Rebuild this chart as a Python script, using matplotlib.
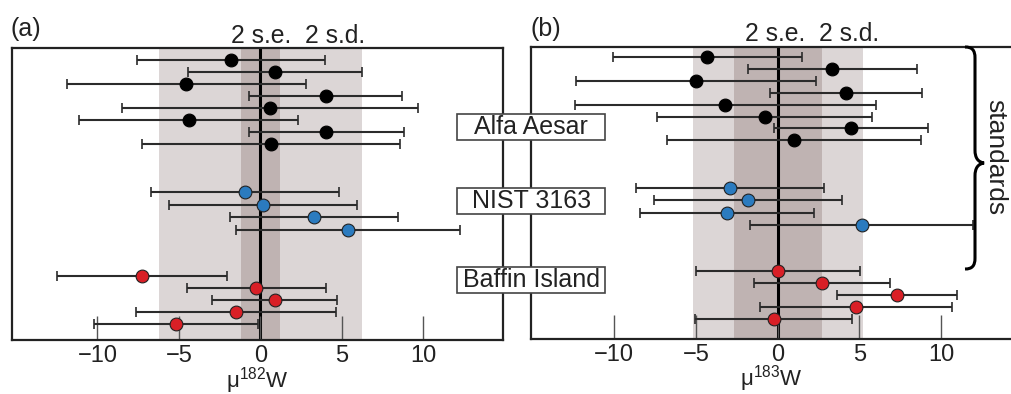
import matplotlib
matplotlib.use('Agg')
import matplotlib.pyplot as plt
from matplotlib.patches import Rectangle, PathPatch
from matplotlib.path import Path
import numpy as np

plt.rcParams['font.family'] = ['Liberation Sans', 'DejaVu Sans']
plt.rcParams['mathtext.fontset'] = 'custom'
plt.rcParams['mathtext.rm'] = 'Liberation Sans'
plt.rcParams['mathtext.it'] = 'Liberation Sans'
plt.rcParams['mathtext.bf'] = 'Liberation Sans'
plt.rcParams['mathtext.default'] = 'regular'

# ---------------- data ----------------
groups = ['Alfa Aesar', 'NIST 3163', 'Baffin Island']
tick_vals = [-10, -5, 0, 5, 10]
tick_labels = ['\u221210', '\u22125', '0', '5', '10']

# panel (a): mu182W
a_alfa_val = [-1.8, 0.9, -4.55, 4.0, 0.6, -4.4, 4.05, 0.65]
a_alfa_err = [5.75, 5.35, 7.33, 4.69, 9.09, 6.73, 4.75, 7.9]
a_nist_val = [-0.95, 0.15, 3.3, 5.35]
a_nist_err = [5.74, 5.78, 5.16, 6.87]
a_baff_val = [-7.28, -0.25, 0.88, -1.5, -5.2]
a_baff_err = [5.23, 4.27, 3.83, 6.11, 5.03]
a_2se, a_2sd = 1.17, 6.2

# panel (b): mu183W
b_alfa_val = [-4.3, 3.35, -5.0, 4.2, -3.2, -0.8, 4.5, 1.0]
b_alfa_err = [5.77, 5.18, 7.34, 4.66, 9.2, 6.57, 4.72, 7.76]
b_nist_val = [-2.9, -1.8, -3.1, 5.15]
b_nist_err = [5.77, 5.77, 5.33, 6.81]
b_baff_val = [0.0, 2.7, 7.33, 4.8, -0.25]
b_baff_err = [5.02, 4.17, 3.68, 5.85, 4.82]
b_2se, b_2sd = 2.7, 5.2

# ---------------- layout ----------------
W, H = 1011, 394
fig = plt.figure(figsize=(W / 100, H / 100), dpi=100)


def fx(px):
    return px / W


def fy(py):
    return 1 - py / H


rows_alfa = 1 + np.arange(8)
rows_nist = 12 + 1.05 * np.arange(4)
rows_baff = 19 + np.arange(5)

LIGHT = '#dcd6d6'
DARK = '#bfb3b2'
BLUE = '#2b7bbf'
RED = '#d91f26'
INK = '#2b2b2b'


def panel(ax, alfa, nist, baff, se, sd, xlim, ylim, xlabel):
    ax.axvspan(-sd, sd, color=LIGHT, lw=0, zorder=0)
    ax.axvspan(-se, se, color=DARK, lw=0, zorder=0.5)
    ax.axvline(0, color='black', lw=2.2, zorder=1)
    for (v, e), rows, fc in ((alfa, rows_alfa, 'black'),
                             (nist, rows_nist, BLUE),
                             (baff, rows_baff, RED)):
        ax.errorbar(v, rows, xerr=e, fmt='none', ecolor=INK, elinewidth=1.5,
                    capsize=3.6, capthick=1.2, zorder=2)
        ax.plot(v, rows, 'o', ms=9.2, mfc=fc,
                mec='black' if fc == 'black' else '#222222', mew=0.8, zorder=3)
    ax.set_xlim(*xlim)
    ax.set_ylim(*ylim)
    ax.set_xticks(tick_vals)
    ax.set_xticklabels(tick_labels)
    ax.tick_params(axis='x', direction='in', length=17, width=1.0, color='#555555',
                   pad=3.5, labelsize=17, labelcolor='#222222')
    ax.set_yticks([])
    ax.set_xlabel(xlabel, fontsize=16, labelpad=-1.5, color='#222222')
    for s in ax.spines.values():
        s.set_linewidth(1.6)
        s.set_color('#222222')


axL = fig.add_axes([fx(12), fy(340), fx(503) - fx(12), fy(48) - fy(340)])
panel(axL, (a_alfa_val, a_alfa_err), (a_nist_val, a_nist_err), (a_baff_val, a_baff_err),
      a_2se, a_2sd, (-15.24, 14.88), (24.33, 0), '\u03bc$^{182}$W')

axR = fig.add_axes([fx(531.3), fy(338.7), 1 - fx(531.3), fy(47) - fy(338.7)])
panel(axR, (b_alfa_val, b_alfa_err), (b_nist_val, b_nist_err), (b_baff_val, b_baff_err),
      b_2se, b_2sd, (-15.08, 14.29), (24.66, 0.16), '\u03bc$^{183}$W')
axR.spines['right'].set_visible(False)

# panel letters and band labels
fig.text(fx(11), fy(29), '(a)', fontsize=18, va='center', ha='left', color='#222222')
fig.text(fx(530), fy(29), '(b)', fontsize=18, va='center', ha='left', color='#222222')
fig.text(fx(298), fy(43), '2 s.e.  2 s.d.', fontsize=17.8, ha='center', va='baseline',
         color='#222222')
fig.text(fx(812), fy(41), '2 s.e.  2 s.d.', fontsize=17.8, ha='center', va='baseline',
         color='#222222')

# group label boxes
box_tops = [114, 188.3, 267.3]
for name, top in zip(groups, box_tops):
    rect = Rectangle((fx(457.3), fy(top + 26)), fx(605) - fx(457.3), fy(top) - fy(top + 26),
                     transform=fig.transFigure, facecolor='white', edgecolor='#444444',
                     lw=1.2, zorder=5)
    fig.add_artist(rect)
    fig.text(fx(531.2), fy(top + 13), name, fontsize=18, ha='center', va='center',
             color='#222222', zorder=6)

# brace "standards"
verts_px = [(965, 47), (972, 47), (975, 50), (975, 58),
            (975, 150),
            (975, 158), (978, 162), (984, 163),
            (978, 164), (975, 168), (975, 176),
            (975, 258),
            (975, 266), (972, 269), (965, 269)]
codes = [Path.MOVETO, Path.CURVE4, Path.CURVE4, Path.CURVE4,
         Path.LINETO,
         Path.CURVE4, Path.CURVE4, Path.CURVE4,
         Path.CURVE4, Path.CURVE4, Path.CURVE4,
         Path.LINETO,
         Path.CURVE4, Path.CURVE4, Path.CURVE4]
verts = [(fx(x), fy(y)) for x, y in verts_px]
fig.add_artist(PathPatch(Path(verts, codes), transform=fig.transFigure,
                         facecolor='none', edgecolor='black', lw=2.2, zorder=5))
fig.text(fx(995), fy(157), 'standards', fontsize=19, rotation=270,
         ha='center', va='center', color='#222222')

fig.savefig('out.png', dpi=100)
